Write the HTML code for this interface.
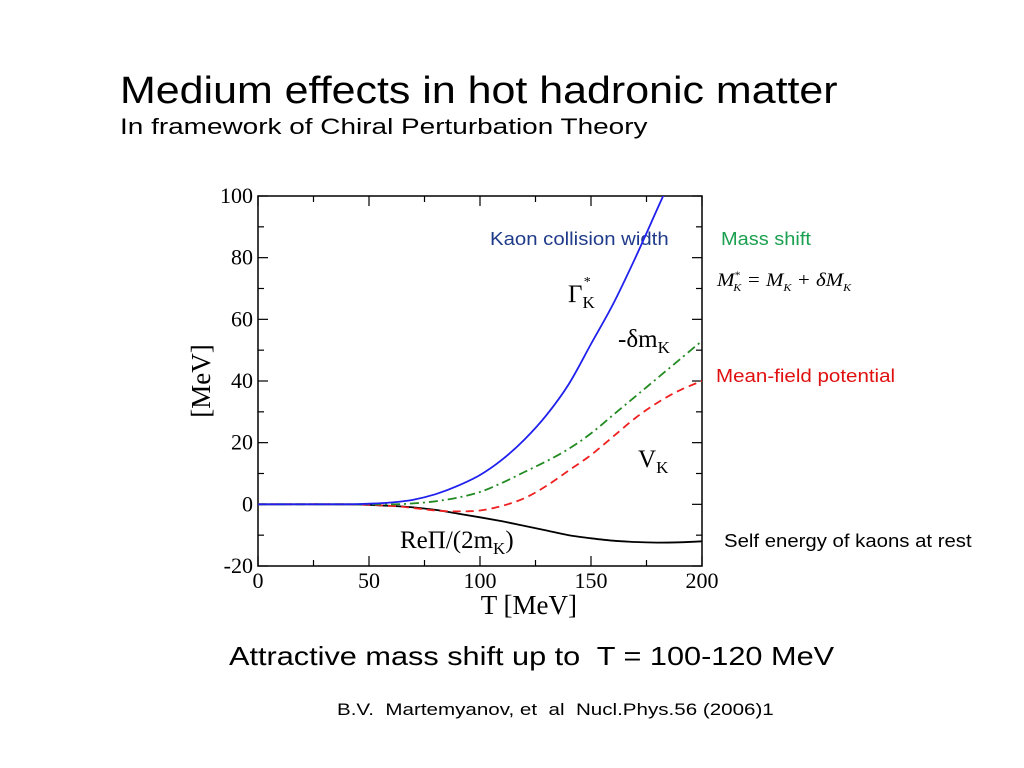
<!DOCTYPE html>
<html><head><meta charset="utf-8"><style>
body{margin:0;background:#fff;}
#page{position:relative;width:1024px;height:768px;overflow:hidden;background:#fff;font-family:"Liberation Sans",sans-serif;}
.t{position:absolute;white-space:nowrap;transform-origin:0 0;}
</style></head><body>
<div id="page">
<div class="t" style="left:120px;top:70px;font-size:38px;color:#000;transform:scaleX(1.13);">Medium effects in hot hadronic matter</div>
<div class="t" style="left:120px;top:114px;font-size:22px;color:#000;transform:scaleX(1.27);">In framework of Chiral Perturbation Theory</div>
<div class="t" style="left:490px;top:229px;font-size:18px;color:#1f3b8a;transform:scaleX(1.13);">Kaon collision width</div>
<div class="t" style="left:721px;top:229px;font-size:18px;color:#1aa050;transform:scaleX(1.11);">Mass shift</div>
<div class="t" style="left:717px;top:270px;font-size:19px;font-family:'Liberation Serif',serif;font-style:italic;transform:scaleX(1.1);">M<sup style="font-size:10px">*</sup><sub style="font-size:11px;margin-left:-6px">K</sub> = M<sub style="font-size:11px">K</sub> + δM<sub style="font-size:11px">K</sub></div>
<div class="t" style="left:716px;top:366px;font-size:18px;color:#e01010;transform:scaleX(1.14);">Mean-field potential</div>
<div class="t" style="left:724px;top:531px;font-size:18px;color:#000;transform:scaleX(1.13);">Self energy of kaons at rest</div>
<div class="t" style="left:229px;top:641px;font-size:26px;color:#000;transform:scaleX(1.18);">Attractive mass shift up to&nbsp; T = 100-120 MeV</div>
<div class="t" style="left:337px;top:700px;font-size:17px;color:#000;transform:scaleX(1.21);">B.V.&nbsp; Martemyanov, et&nbsp; al&nbsp; Nucl.Phys.56 (2006)1</div>
<svg id="chart" width="1024" height="768" style="position:absolute;left:0;top:0;font-family:'Liberation Serif',serif;"></svg>
</div>
<script>
const xTicks=[0,50,100,150,200];
const yTicks=[-20,0,20,40,60,80,100];
const gammaT=[0,20,40,50,60,70,80,90,100,110,120,130,140,150,160,170,180,190];
const gammaV=[0,0,0,0.2,0.6,1.5,3.3,6,9.5,14.5,21,29,39,52,65,80,96,112];
const dmT=[0,40,60,70,80,90,100,110,120,130,140,150,160,170,180,190,200];
const dmV=[0,0,0,0.3,1,2.2,4,7,10.5,14,18,23,29,35,41,47,53];
const vT=[0,40,60,70,80,90,100,110,120,130,140,150,160,170,180,190,200];
const vV=[0,0,-0.5,-1.2,-2,-2.3,-2,-0.5,2,6,11,16,22,28,33,37,40];
const reT=[0,40,50,60,70,80,90,100,110,120,130,140,150,160,170,180,190,200];
const reV=[0,0,-0.2,-0.5,-1,-1.8,-3,-4.2,-5.5,-7,-8.5,-10,-11,-11.8,-12.2,-12.4,-12.3,-12];
const L=258,R=702,T=196,B=566;
const sx=t=>L+(t-0)/200*(R-L);
const sy=v=>B-(v+20)/120*(B-T);
const svg=document.getElementById('chart');
const NS='http://www.w3.org/2000/svg';
function mk(tag,attrs){const e=document.createElementNS(NS,tag);for(const k in attrs)e.setAttribute(k,attrs[k]);svg.appendChild(e);return e;}
const defs=mk('defs',{});
const cp=document.createElementNS(NS,'clipPath');cp.setAttribute('id','clip');
const cr=document.createElementNS(NS,'rect');cr.setAttribute('x',L);cr.setAttribute('y',T);cr.setAttribute('width',R-L);cr.setAttribute('height',B-T);
cp.appendChild(cr);defs.appendChild(cp);
const frame=mk('rect',{x:L,y:T,width:R-L,height:B-T,fill:'none',stroke:'#000','stroke-width':1.5});


for(let t=0;t<=200;t+=25){const big=t%50===0;const len=big?10:6;
 const a=mk('line',{x1:sx(t),x2:sx(t),y1:B,y2:B-len,stroke:'#000','stroke-width':1.2});
 
 
 const b=mk('line',{x1:sx(t),x2:sx(t),y1:T,y2:T+len,stroke:'#000','stroke-width':1.2});
 
 }
for(let v=-20;v<=100;v+=10){const big=v%20===0;const len=big?10:6;
 const a=mk('line',{x1:L,x2:L+len,y1:sy(v),y2:sy(v),stroke:'#000','stroke-width':1.2});
 
 
 const b=mk('line',{x1:R,x2:R-len,y1:sy(v),y2:sy(v),stroke:'#000','stroke-width':1.2});
 
 }
xTicks.forEach(t=>{const e=mk('text',{x:sx(t),y:B+22,'font-size':22,'text-anchor':'middle'});e.textContent=t;
 
 });
yTicks.forEach(v=>{const e=mk('text',{x:L-5,y:sy(v)+7,'font-size':22,'text-anchor':'end'});e.textContent=v;
 
 });
const xt=mk('text',{x:sx(122),y:B+48,'font-size':27,'text-anchor':'middle'});xt.textContent='T [MeV]';


const yt=mk('text',{x:0,y:0,'font-size':27,'text-anchor':'middle',transform:`translate(210,${sy(40)}) rotate(-90)`});yt.textContent='[MeV]';


function line(ts,vs,color,dash,name){
 const P=ts.map((t,i)=>[sx(t),sy(vs[i])]);
 let d='M'+P[0][0].toFixed(1)+','+P[0][1].toFixed(1);
 for(let i=0;i<P.length-1;i++){const p0=P[Math.max(0,i-1)],p1=P[i],p2=P[i+1],p3=P[Math.min(P.length-1,i+2)];
  const c1=[p1[0]+(p2[0]-p0[0])/6,p1[1]+(p2[1]-p0[1])/6],c2=[p2[0]-(p3[0]-p1[0])/6,p2[1]-(p3[1]-p1[1])/6];
  d+='C'+c1.map(n=>n.toFixed(1)).join(',')+' '+c2.map(n=>n.toFixed(1)).join(',')+' '+p2.map(n=>n.toFixed(1)).join(',');}
 const p=mk('path',{d,fill:'none',stroke:color,'stroke-width':1.8,'clip-path':'url(#clip)'});
 if(dash)p.setAttribute('stroke-dasharray',dash);
 
 }
line(reT,reV,'#000',null,'re-pi-line');
line(vT,vV,'#ee2020','8,5','v-k-line');
line(dmT,dmV,'#228b22','9,4,2,4','delta-m-line');
line(gammaT,gammaV,'#2020ee',null,'gamma-line');
function lab(x,y,html,name){const e=mk('text',{x,y,'font-size':25});e.innerHTML=html;
 
 }
lab(568,302,'Γ<tspan font-size="17" dy="6">K</tspan><tspan font-size="14" dx="-11" dy="-22">*</tspan>','gamma-label');
lab(618,347,'-δm<tspan font-size="17" dy="6">K</tspan>','delta-m-label');
lab(638,467,'V<tspan font-size="17" dy="6">K</tspan>','v-k-label');
lab(400,548,'ReΠ/(2m<tspan font-size="17" dy="6">K</tspan><tspan dy="-6">)</tspan>','re-pi-label');
</script>
</body></html>
